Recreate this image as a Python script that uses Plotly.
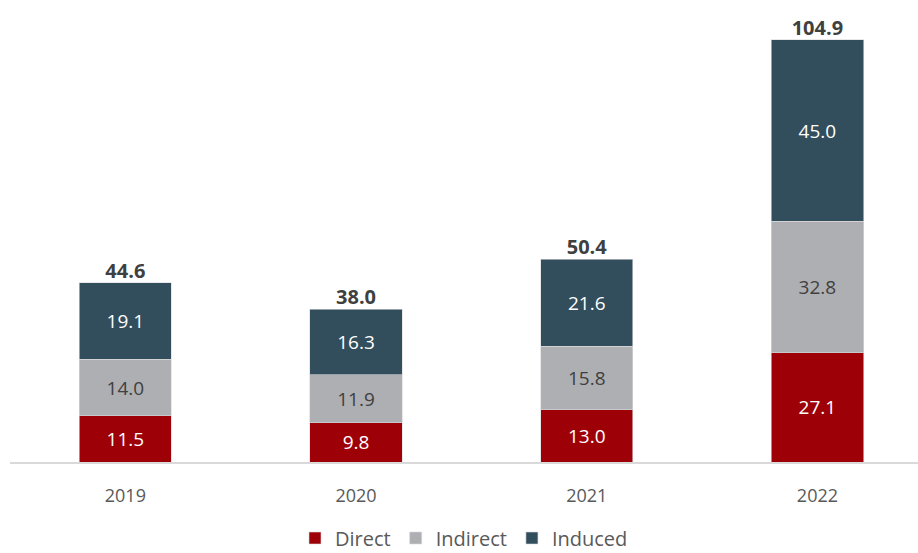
import plotly.graph_objects as go

years = ["2019", "2020", "2021", "2022"]
direct = [11.5, 9.8, 13.0, 27.1]
indirect = [14.0, 11.9, 15.8, 32.8]
induced = [19.1, 16.3, 21.6, 45.0]
totals = [44.6, 38.0, 50.4, 104.9]

FONT = "Open Sans"
fig = go.Figure()

series = [
    ("Direct", direct, "#9E0008", "#FFFFFF"),
    ("Indirect", indirect, "#AEAFB3", "#404040"),
    ("Induced", induced, "#324D5C", "#FFFFFF"),
]
for name, vals, color, tcolor in series:
    fig.add_trace(go.Bar(
        name=name, x=years, y=vals,
        marker=dict(color=color, line=dict(width=0.6, color="#D9D9D9")),
        text=[f"{v:.1f}" for v in vals],
        textposition="inside", insidetextanchor="middle",
        textfont=dict(family=FONT, size=19, color=tcolor),
        textangle=0,
        hoverinfo="skip",
    ))

fig.add_trace(go.Scatter(
    x=years, y=totals, mode="text",
    text=[f"{v:.1f}" for v in totals],
    textposition="top center",
    textfont=dict(family=FONT, size=20, color="#404040", weight="bold"),
    showlegend=False, hoverinfo="skip", cliponaxis=False,
))

fig.update_layout(
    width=918, height=553,
    barmode="stack", bargap=0.6,
    plot_bgcolor="white", paper_bgcolor="white",
    margin=dict(l=10, r=0, t=20, b=91, autoexpand=False),
    font=dict(family=FONT, color="#595959"),
    legend=dict(orientation="h", x=0.5, xanchor="center", y=-0.172, yanchor="middle",
                font=dict(family=FONT, size=20, color="#595959"),
                traceorder="normal", itemwidth=30),
    xaxis=dict(range=[-0.5, 3.436], showgrid=False, showline=True,
               linecolor="#D9D9D9", linewidth=1.5, automargin=False,
               tickfont=dict(family=FONT, size=18, color="#595959"),
               ticklabelstandoff=17),
    yaxis=dict(range=[0, 109.87], visible=False, automargin=False),
    uniformtext=dict(minsize=10, mode="show"),
)

fig.write_html("out.html", config={"displayModeBar": False})
with open("out.html", "r", encoding="utf-8") as f:
    html = f.read()
html = html.replace("<head>", "<head><style>html,body{margin:0;padding:0;overflow:hidden;}</style>", 1)
with open("out.html", "w", encoding="utf-8") as f:
    f.write(html)
